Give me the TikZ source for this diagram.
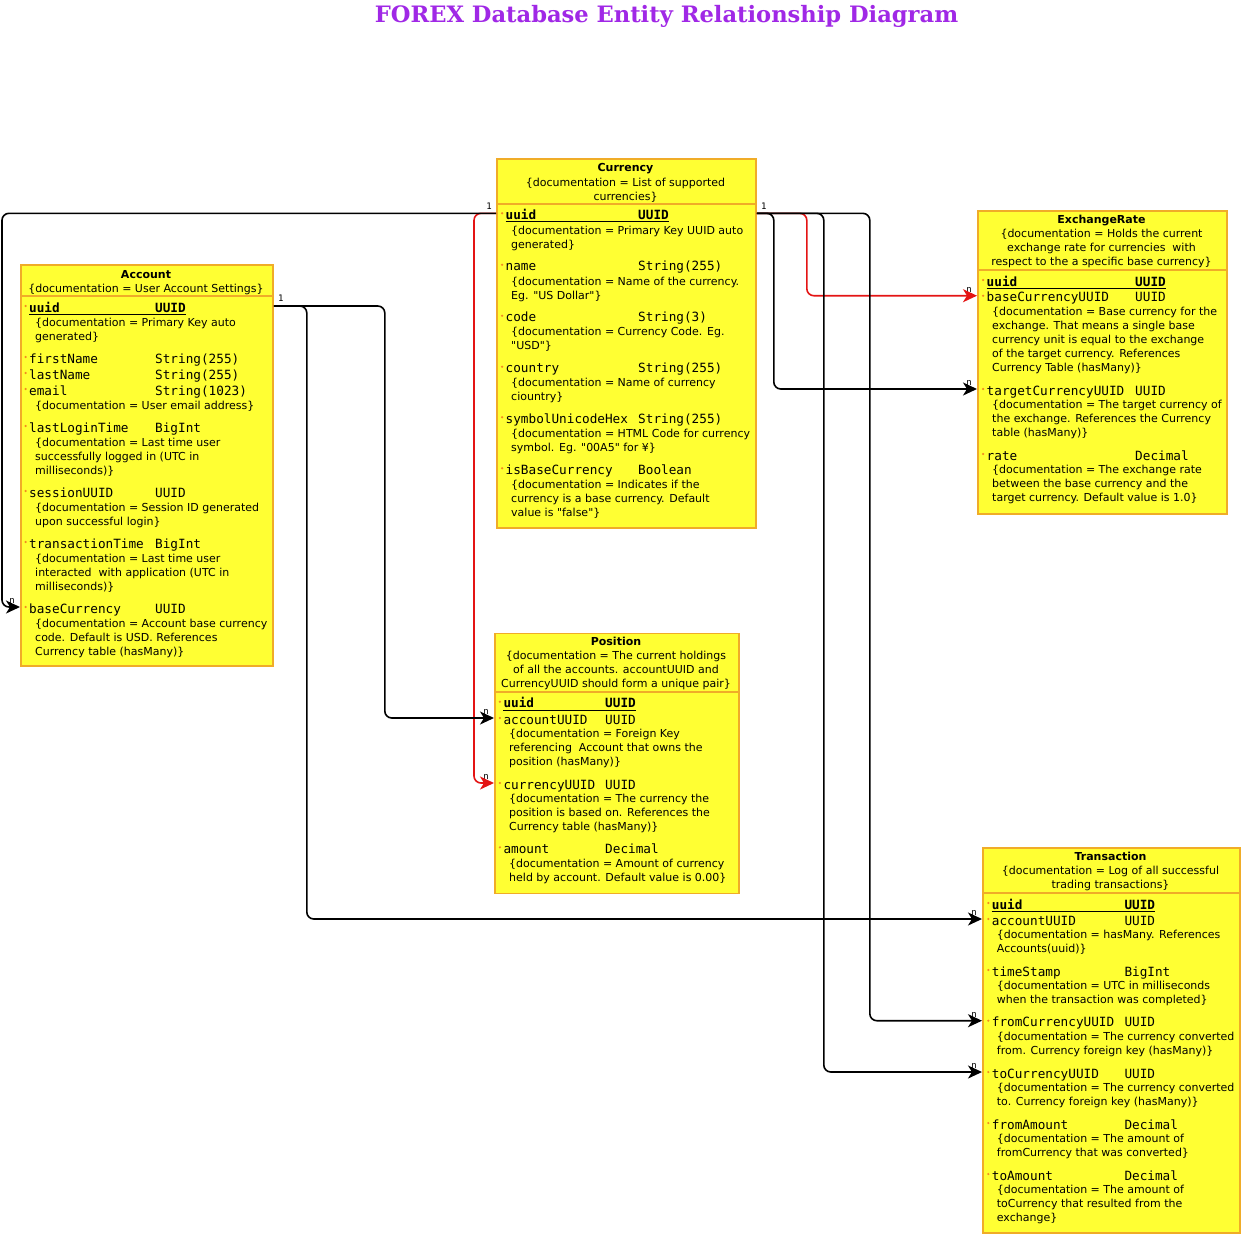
\documentclass[tikz,border=0pt]{standalone}
\usepackage{fontspec}
\setmainfont[Ligatures=TeXOff]{DejaVu Sans}
\newfontfamily\erdmono{DejaVu Sans Mono}
\newfontfamily\erdserif{DejaVu Serif}
\usepackage{tikz}
\usetikzlibrary{calc}
\usetikzlibrary{arrows.meta}

\definecolor{boxfill}{RGB}{255,255,51}
\definecolor{boxline}{RGB}{240,172,40}
\definecolor{linkred}{RGB}{228,20,20}
\definecolor{titlepurple}{RGB}{160,40,230}

\begin{document}
\begin{tikzpicture}[x=1pt,y=-1pt]
				\tikzstyle{every node}=[inner sep=0pt]
				\tikzstyle{entbox}=[draw=boxline, fill=boxfill, line width=1.8pt, anchor=north west]
				\tikzstyle{entline}=[draw=boxline, line width=1.8pt]
				\tikzstyle{enttitle}=[font=\bfseries\fontsize{11}{14}\selectfont, anchor=base]
				\tikzstyle{enthead}=[font=\fontsize{11}{14}\selectfont, align=center, anchor=base]
				\tikzstyle{fielddot}=[circle, fill=boxline!80!red, minimum size=2.4pt, xshift=-2pt]
				\tikzstyle{fname}=[font=\erdmono\fontsize{12.7}{14}\selectfont, anchor=base west, text height=12pt, text depth=0pt, label={[fielddot]left:{}}]
				\tikzstyle{pkname}=[fname, font=\erdmono\bfseries\fontsize{12.7}{14}\selectfont]
				\tikzstyle{ftype}=[font=\erdmono\fontsize{12.7}{14}\selectfont, anchor=base west]
				\tikzstyle{pktype}=[ftype, font=\erdmono\bfseries\fontsize{12.7}{14}\selectfont]
				\tikzstyle{fdoc}=[font=\fontsize{11}{14}\selectfont, align=left, anchor=base west]
				\tikzstyle{mult}=[font=\erdmono\fontsize{9}{9}\selectfont]
				\tikzstyle{fk}=[draw=black, line width=1.6pt, rounded corners=7pt, -{Stealth[length=14pt,width=13pt,inset=4pt]}]
				\tikzstyle{redfk}=[fk, draw=linkred]
				
				\path[use as bounding box, fill=white] (0,0) rectangle (1241,1234);
				
				\node[font=\erdserif\bfseries\fontsize{22.6}{27}\selectfont, text=titlepurple, anchor=base] (title) at (666.5,22) {FOREX Database Entity Relationship Diagram};
				
				% Account
				\node[entbox, minimum width=252pt, minimum height=401pt] (acc) at (20,264) {};
				\draw[entline] (20,296) -- (272,296);
				\node[enttitle] (acc-title) at (146,278) {Account};
				\node[enthead] (acc-head) at (146,292) {\{documentation = User Account Settings\}};
				\node[pkname] (acc-uuid) at (29,312) {uuid};
				\node[pktype] (acc-uuid-t) at (155,312) {UUID};
				\node[fdoc] (acc-uuid-d) at (35,340.5) {\{documentation = Primary Key auto\\generated\}};
				\node[fname] (acc-first) at (29,363) {firstName};
				\node[ftype] (acc-first-t) at (155,363) {String(255)};
				\node[fname] (acc-last) at (29,379) {lastName};
				\node[ftype] (acc-last-t) at (155,379) {String(255)};
				\node[fname] (acc-email) at (29,395) {email};
				\node[ftype] (acc-email-t) at (155,395) {String(1023)};
				\node[fdoc] (acc-email-d) at (35,409.5) {\{documentation = User email address\}};
				\node[fname] (acc-login) at (29,432) {lastLoginTime};
				\node[ftype] (acc-login-t) at (155,432) {BigInt};
				\node[fdoc] (acc-login-d) at (35,474.5) {\{documentation = Last time user\\successfully logged in (UTC in\\milliseconds)\}};
				\node[fname] (acc-session) at (29,497) {sessionUUID};
				\node[ftype] (acc-session-t) at (155,497) {UUID};
				\node[fdoc] (acc-session-d) at (35,525.5) {\{documentation = Session ID generated\\upon successful login\}};
				\node[fname] (acc-trans) at (29,548) {transactionTime};
				\node[ftype] (acc-trans-t) at (155,548) {BigInt};
				\node[fdoc] (acc-trans-d) at (35,590.5) {\{documentation = Last time user\\interacted \ with application (UTC in\\milliseconds)\}};
				\node[fname] (acc-base) at (29,613) {baseCurrency};
				\node[ftype] (acc-base-t) at (155,613) {UUID};
				\node[fdoc] (acc-base-d) at (35,655.5) {\{documentation = Account base currency\\code. Default is USD. References\\Currency table (hasMany)\}};
				\draw[line width=0.9pt] ([yshift=-2.6pt]acc-uuid.base west) -- ([yshift=-2.6pt]acc-uuid-t.base east);
				
				% Currency
				\node[entbox, minimum width=259pt, minimum height=369pt] (cur) at (496,158) {};
				\draw[entline] (496,204) -- (755,204);
				\node[enttitle] (cur-title) at (625.5,171.7) {Currency};
				\node[enthead] (cur-head) at (625.5,200) {\{documentation = List of supported\\currencies\}};
				\node[pkname] (cur-uuid) at (505.5,219.3) {uuid};
				\node[pktype] (cur-uuid-t) at (638,219.3) {UUID};
				\node[fdoc] (cur-uuid-d) at (511,248) {\{documentation = Primary Key UUID auto\\generated\}};
				\node[fname] (cur-name) at (505.5,270.7) {name};
				\node[ftype] (cur-name-t) at (638,270.7) {String(255)};
				\node[fdoc] (cur-name-d) at (511,299) {\{documentation = Name of the currency.\\Eg. "US Dollar"\}};
				\node[fname] (cur-code) at (505.5,321.7) {code};
				\node[ftype] (cur-code-t) at (638,321.7) {String(3)};
				\node[fdoc] (cur-code-d) at (511,349.7) {\{documentation = Currency Code. Eg.\\"USD"\}};
				\node[fname] (cur-country) at (505.5,372.7) {country};
				\node[ftype] (cur-country-t) at (638,372.7) {String(255)};
				\node[fdoc] (cur-country-d) at (511,400.7) {\{documentation = Name of currency\\ciountry\}};
				\node[fname] (cur-symbol) at (505.5,423.3) {symbolUnicodeHex};
				\node[ftype] (cur-symbol-t) at (638,423.3) {String(255)};
				\node[fdoc] (cur-symbol-d) at (511,451.7) {\{documentation = HTML Code for currency\\symbol. Eg. "00A5" for ¥\}};
				\node[fname] (cur-isbase) at (505.5,474.3) {isBaseCurrency};
				\node[ftype] (cur-isbase-t) at (638,474.3) {Boolean};
				\node[fdoc] (cur-isbase-d) at (511,516.7) {\{documentation = Indicates if the\\currency is a base currency. Default\\value is "false"\}};
				\draw[line width=0.9pt] ([yshift=-2.6pt]cur-uuid.base west) -- ([yshift=-2.6pt]cur-uuid-t.base east);
				
				% ExchangeRate
				\node[entbox, minimum width=249pt, minimum height=303pt] (exr) at (977,210) {};
				\draw[entline] (977,270) -- (1226,270);
				\node[enttitle] (exr-title) at (1101.5,223) {ExchangeRate};
				\node[enthead] (exr-head) at (1101.5,265.3) {\{documentation = Holds the current\\exchange rate for currencies \ with\\respect to the a specific base currency\}};
				\node[pkname] (exr-uuid) at (986.5,286) {uuid};
				\node[pktype] (exr-uuid-t) at (1135,286) {UUID};
				\node[fname] (exr-base) at (986.5,301.7) {baseCurrencyUUID};
				\node[ftype] (exr-base-t) at (1135,301.7) {UUID};
				\node[fdoc] (exr-base-d) at (992,371) {\{documentation = Base currency for the\\exchange. That means a single base\\currency unit is equal to the exchange\\of the target currency. References\\Currency Table (hasMany)\}};
				\node[fname] (exr-target) at (986.5,395) {targetCurrencyUUID};
				\node[ftype] (exr-target-t) at (1135,395) {UUID};
				\node[fdoc] (exr-target-d) at (992,436.3) {\{documentation = The target currency of\\the exchange. References the Currency\\table (hasMany)\}};
				\node[fname] (exr-rate) at (986.5,460) {rate};
				\node[ftype] (exr-rate-t) at (1135,460) {Decimal};
				\node[fdoc] (exr-rate-d) at (992,501.3) {\{documentation = The exchange rate\\between the base currency and the\\target currency. Default value is 1.0\}};
				\draw[line width=0.9pt] ([yshift=-2.6pt]exr-uuid.base west) -- ([yshift=-2.6pt]exr-uuid-t.base east);
				
				% Position
				\node[entbox, minimum width=244pt, minimum height=260pt] (pos) at (494,632.5) {};
				\draw[entline] (494,691.7) -- (738,691.7);
				\node[enttitle] (pos-title) at (616,645) {Position};
				\node[enthead] (pos-head) at (616,687) {\{documentation = The current holdings\\of all the accounts. accountUUID and\\CurrencyUUID should form a unique pair\}};
				\node[pkname] (pos-uuid) at (503.3,707.7) {uuid};
				\node[pktype] (pos-uuid-t) at (605,707.7) {UUID};
				\node[fname] (pos-acc) at (503.3,724) {accountUUID};
				\node[ftype] (pos-acc-t) at (605,724) {UUID};
				\node[fdoc] (pos-acc-d) at (509,765.3) {\{documentation = Foreign Key\\referencing \ Account that owns the\\position (hasMany)\}};
				\node[fname] (pos-cur) at (503.3,789) {currencyUUID};
				\node[ftype] (pos-cur-t) at (605,789) {UUID};
				\node[fdoc] (pos-cur-d) at (509,830.3) {\{documentation = The currency the\\position is based on. References the\\Currency table (hasMany)\}};
				\node[fname] (pos-amount) at (503.3,853.3) {amount};
				\node[ftype] (pos-amount-t) at (605,853.3) {Decimal};
				\node[fdoc] (pos-amount-d) at (509,881.3) {\{documentation = Amount of currency\\held by account. Default value is 0.00\}};
				\draw[line width=0.9pt] ([yshift=-2.6pt]pos-uuid.base west) -- ([yshift=-2.6pt]pos-uuid-t.base east);
				
				% Transaction
				\node[entbox, minimum width=257pt, minimum height=385pt] (trx) at (982,847.3) {};
				\draw[entline] (982,892.7) -- (1239,892.7);
				\node[enttitle] (trx-title) at (1110.5,860) {Transaction};
				\node[enthead] (trx-head) at (1110.5,888.3) {\{documentation = Log of all successful\\trading transactions\}};
				\node[pkname] (trx-uuid) at (991.7,909) {uuid};
				\node[pktype] (trx-uuid-t) at (1124.3,909) {UUID};
				\node[fname] (trx-acc) at (991.7,925) {accountUUID};
				\node[ftype] (trx-acc-t) at (1124.3,925) {UUID};
				\node[fdoc] (trx-acc-d) at (996.7,952.3) {\{documentation = hasMany. References\\Accounts(uuid)\}};
				\node[fname] (trx-time) at (991.7,976) {timeStamp};
				\node[ftype] (trx-time-t) at (1124.3,976) {BigInt};
				\node[fdoc] (trx-time-d) at (996.7,1003.5) {\{documentation = UTC in milliseconds\\when the transaction was completed\}};
				\node[fname] (trx-from) at (991.7,1026.7) {fromCurrencyUUID};
				\node[ftype] (trx-from-t) at (1124.3,1026.7) {UUID};
				\node[fdoc] (trx-from-d) at (996.7,1054.5) {\{documentation = The currency converted\\from. Currency foreign key (hasMany)\}};
				\node[fname] (trx-to) at (991.7,1078) {toCurrencyUUID};
				\node[ftype] (trx-to-t) at (1124.3,1078) {UUID};
				\node[fdoc] (trx-to-d) at (996.7,1105.5) {\{documentation = The currency converted\\to. Currency foreign key (hasMany)\}};
				\node[fname] (trx-famount) at (991.7,1129) {fromAmount};
				\node[ftype] (trx-famount-t) at (1124.3,1129) {Decimal};
				\node[fdoc] (trx-famount-d) at (996.7,1156.5) {\{documentation = The amount of\\fromCurrency that was converted\}};
				\node[fname] (trx-tamount) at (991.7,1180) {toAmount};
				\node[ftype] (trx-tamount-t) at (1124.3,1180) {Decimal};
				\node[fdoc] (trx-tamount-d) at (996.7,1221.5) {\{documentation = The amount of\\toCurrency that resulted from the\\exchange\}};
				\draw[line width=0.9pt] ([yshift=-2.6pt]trx-uuid.base west) -- ([yshift=-2.6pt]trx-uuid-t.base east);
				
				% multiplicities
				\node[mult] (one-curw) at ($(cur.west |- cur-uuid)+(-7,-7)$) {1};
				\node[mult] (one-cure) at ($(cur.east |- cur-uuid)+(7,-7)$) {1};
				\node[mult] (one-acc) at ($(acc.east |- acc-uuid)+(7,-8)$) {1};
				\node[mult] (n-acc) at ($(acc.west |- acc-base)+(-8,-6)$) {n};
				\node[mult] (n-poscur) at ($(pos.west |- pos-cur)+(-8,-6)$) {n};
				\node[mult] (n-posacc) at ($(pos.west |- pos-acc)+(-8,-6)$) {n};
				\node[mult] (n-exrbase) at ($(exr.west |- exr-base)+(-8,-6)$) {n};
				\node[mult] (n-exrtarget) at ($(exr.west |- exr-target)+(-8,-6)$) {n};
				\node[mult] (n-trxacc) at ($(trx.west |- trx-acc)+(-8,-6)$) {n};
				\node[mult] (n-trxfrom) at ($(trx.west |- trx-from)+(-8,-6)$) {n};
				\node[mult] (n-trxto) at ($(trx.west |- trx-to)+(-8,-6)$) {n};
				
				% relations
				\draw[redfk] (cur.west |- cur-uuid) -- ++(-22,0) |- (pos.west |- pos-cur);
				\draw[fk] (cur.west |- cur-uuid) -- ++(-494,0) |- (acc.west |- acc-base);
				\draw[redfk] (cur.east |- cur-uuid) -- ++(50,0) |- (exr.west |- exr-base);
				\draw[fk] (cur.east |- cur-uuid) -- ++(17,0) |- (exr.west |- exr-target);
				\draw[fk] (cur.east |- cur-uuid) -- ++(67,0) |- (trx.west |- trx-to);
				\draw[fk] (cur.east |- cur-uuid) -- ++(113,0) |- (trx.west |- trx-from);
				\draw[fk] (acc.east |- acc-uuid) -- ++(111,0) |- (pos.west |- pos-acc);
				\draw[fk] (acc.east |- acc-uuid) -- ++(33,0) |- (trx.west |- trx-acc);
				
\end{tikzpicture}
\end{document}
